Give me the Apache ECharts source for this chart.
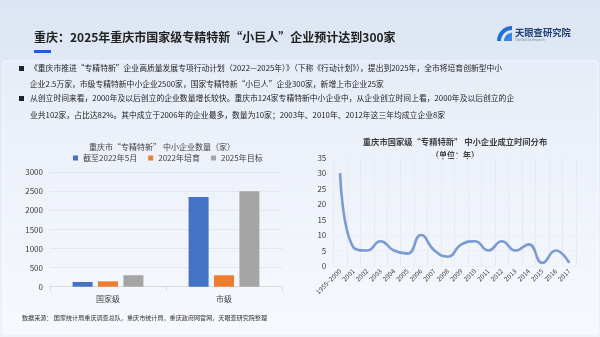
<!DOCTYPE html>
<html><head><meta charset="utf-8">
<script src="https://cdn.jsdelivr.net/npm/echarts@6/dist/echarts.min.js"></script>
<style>
html,body{margin:0;padding:0;}
body{width:600px;height:337px;background:linear-gradient(180deg,#dce5f3 0%,#e6ecf7 45%,#eef2f9 100%);}
#c{width:600px;height:337px;}
</style></head>
<body><div id="c"></div>
<script>
// ---- data ----
var barCategories = ['国家级', '市级'];
var barSeriesNames = ['截至2022年5月', '2022年培育', '2025年目标'];
var barMay2022 = [124, 2350];
var bar2022Cultivate = [140, 300];
var bar2025Target = [300, 2500];

var lineCategories = ['1955~2000','2001','2002','2003','2004','2005','2006','2007','2008','2009','2010','2011','2012','2013','2014','2015','2016','2017'];
var lineValues = [30, 6, 5, 8, 5, 4, 10, 5, 3, 7, 8, 5, 8, 5, 7, 1, 5, 1];

var pageTitle = '重庆：2025年重庆市国家级专精特新“小巨人”企业预计达到300家';
var bulletLines = [
  '《重庆市推进“专精特新”企业高质量发展专项行动计划（2022—2025年）》（下称《行动计划》），提出到2025年，全市将培育创新型中小',
  '企业2.5万家，市级专精特新中小企业2500家，国家专精特新“小巨人”企业300家，新增上市企业25家',
  '从创立时间来看，2000年及以后创立的企业数量增长较快。重庆市124家专精特新中小企业中，从企业创立时间上看，2000年及以后创立的企',
  '业共102家，占比达82%。其中成立于2006年的企业最多，数量为10家；2003年、2010年、2012年这三年均成立企业8家'
];
var barTitle = '重庆市“专精特新” 中小企业数量（家）';
var lineTitle = '重庆市国家级“专精特新” 中小企业成立时间分布';
var lineSubtitle = '（单位：年）';
var sourceText = '数据来源： 国家统计局重庆调查总队，重庆市统计局，重庆政府网官网，天眼查研究院整理';

var FONT = '"Noto Sans CJK SC","Noto Sans",sans-serif';
var chart = echarts.init(document.getElementById('c'), null, {renderer:'canvas'});

function txt(x, y, s, font, color, align, va) {
  return {type:'text', x:x, y:y, style:{text:s, fill:color||'#222', font:font+' '+FONT, align:align||'left', verticalAlign:va||'middle'}};
}

var graphics = [
  {type:'rect', shape:{x:3,y:61,width:595,height:273,r:3}, style:{fill:new echarts.graphic.LinearGradient(0,0,0,1,[{offset:0,color:'rgba(236,241,250,0.5)'},{offset:1,color:'rgba(246,248,253,1)'}]), stroke:'rgba(255,255,255,0.7)', lineWidth:1}, z:-10},
  txt(34, 37, pageTitle, 'bold 12px', '#222'),
  {type:'rect', shape:{x:34,y:50,width:17,height:3}, style:{fill:'#1f5fcf'}},
  // logo
  {type:'sector', shape:{cx:512, cy:41, r:15, r0:11, startAngle:Math.PI, endAngle:Math.PI*1.5}, style:{fill:'#1f6fd6'}},
  {type:'sector', shape:{cx:512, cy:41, r:8, r0:5, startAngle:Math.PI, endAngle:Math.PI*1.5}, style:{fill:'#2b7be0'}},
  {type:'polygon', shape:{points:[[505,41],[512,32],[512,41]]}, style:{fill:'#3a86e6'}},
  txt(515, 32, '天眼查研究院', 'bold 9.3px', '#1f3e78'),
  txt(515, 39.5, 'TianYanCha Research', '3px', '#6f7f99'),
  // bullets
  {type:'rect', shape:{x:19,y:66,width:5,height:5}, style:{fill:'#222'}},
  {type:'rect', shape:{x:19,y:96,width:5,height:5}, style:{fill:'#222'}},
  txt(30, 68.5, bulletLines[0], '7.8px', '#222'),
  txt(30, 84.5, bulletLines[1], '7.8px', '#222'),
  txt(30, 98.5, bulletLines[2], '7.8px', '#222'),
  txt(30, 115.5, bulletLines[3], '7.8px', '#222'),
  // chart titles
  txt(162, 147, barTitle, '8px', '#404040', 'center'),
  txt(455, 142, lineTitle, 'bold 8.3px', '#404040', 'center'),
  txt(455, 154.5, lineSubtitle, 'bold 8px', '#404040', 'center'),
  txt(22, 318, sourceText, '6.1px', '#333')
];

var option = {
  animation:false,
  backgroundColor:'transparent',
  textStyle: {fontFamily: FONT},
  graphic: graphics,
  legend: {
    data: barSeriesNames, left: 68, top: 149,
    itemWidth: 5, itemHeight: 5, itemGap: 11, icon: 'rect',
    textStyle:{fontSize:8, color:'#404040', fontFamily:FONT}
  },
  grid: [
    {left:50, top:172.3, width:232, height:114.4},
    {left:333.3, top:157.7, width:242.7, height:108.3}
  ],
  xAxis: [
    {gridIndex:0, type:'category', data:barCategories,
     axisLine:{lineStyle:{color:'#d9d9d9'}}, axisTick:{show:true, lineStyle:{color:'#d9d9d9'}, length:4},
     axisLabel:{fontSize:8, color:'#404040', margin:8, fontFamily:FONT}},
    {gridIndex:1, type:'category', data:lineCategories, boundaryGap:true,
     axisLine:{show:false}, axisTick:{show:false},
     splitLine:{show:true, lineStyle:{color:'#e6eaf3'}},
     axisLabel:{fontSize:6.5, color:'#404040', rotate:45, margin:4, interval:0, fontFamily:FONT}}
  ],
  yAxis: [
    {gridIndex:0, type:'value', min:0, max:3000, interval:500,
     axisLine:{show:false}, axisTick:{show:false},
     splitLine:{lineStyle:{color:'#e3e6ec'}},
     axisLabel:{fontSize:8, color:'#404040', margin:7, fontFamily:FONT, formatter:function(v){return String(v);}}},
    {gridIndex:1, type:'value', min:0, max:35, interval:5,
     axisLine:{show:false}, axisTick:{show:false},
     splitLine:{lineStyle:{color:'#edf0f6'}},
     axisLabel:{fontSize:8, color:'#404040', margin:7, fontFamily:FONT}}
  ],
  series: [
    {name:barSeriesNames[0], type:'bar', xAxisIndex:0, yAxisIndex:0, data:barMay2022, barWidth:20, barGap:'27%', itemStyle:{color:'#4472c4'}},
    {name:barSeriesNames[1], type:'bar', xAxisIndex:0, yAxisIndex:0, data:bar2022Cultivate, barWidth:20, barGap:'27%', itemStyle:{color:'#ed7d31'}},
    {name:barSeriesNames[2], type:'bar', xAxisIndex:0, yAxisIndex:0, data:bar2025Target, barWidth:20, barGap:'27%', itemStyle:{color:'#a5a5a5'}},
    {name:'成立时间分布', type:'line', xAxisIndex:1, yAxisIndex:1, data:lineValues, smooth:0.5, showSymbol:false,
     lineStyle:{color:'#7b9bd2', width:2.6}}
  ]
};
chart.setOption(option);
</script>
</body></html>
